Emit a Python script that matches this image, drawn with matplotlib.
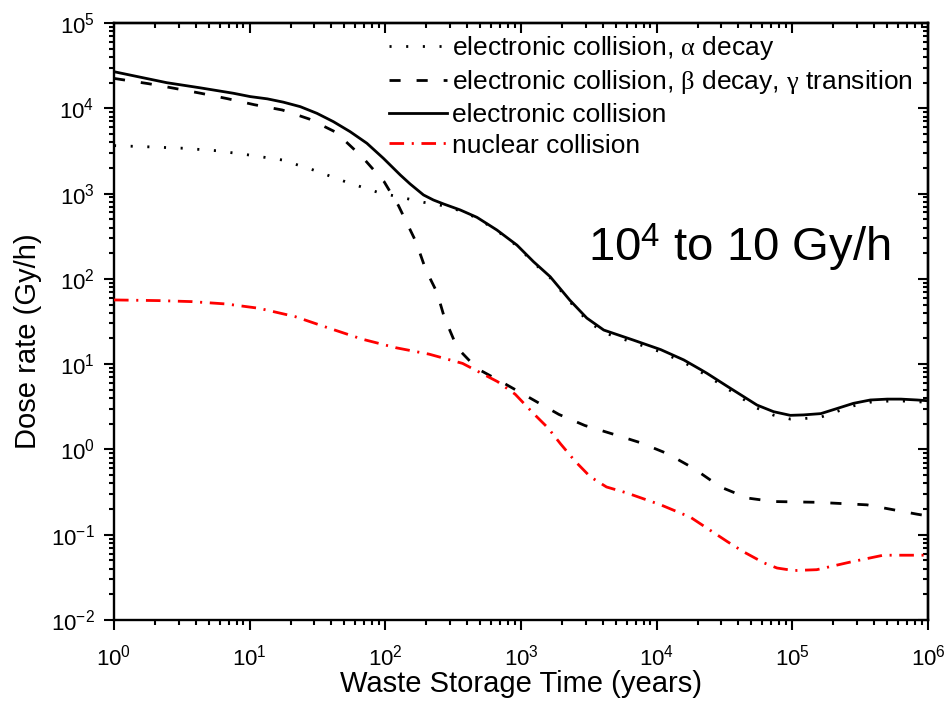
import numpy as np
import matplotlib
matplotlib.use("Agg")
import matplotlib.pyplot as plt
from matplotlib.ticker import LogLocator, NullFormatter

plt.rcParams["font.family"] = ["Liberation Sans", "DejaVu Sans"]
plt.rcParams["mathtext.fontset"] = "custom"
plt.rcParams["mathtext.rm"] = "Liberation Sans"
plt.rcParams["mathtext.it"] = "Liberation Serif"
plt.rcParams["mathtext.bf"] = "Liberation Sans:bold"
plt.rcParams["axes.unicode_minus"] = False
plt.rcParams["lines.scale_dashes"] = False

# Electronic collision, alpha decay
t_alpha = [1, 1.90, 3.24, 5.71, 9.79, 17.3, 29.5, 50.6, 88.9, 152, 191, 226, 269,
           356, 473, 664, 933, 1236, 1641, 2291, 3055, 4074, 6761, 10715, 15849,
           20893, 23442, 33113, 54954, 72778, 96605, 121060, 162181, 213796,
           281838, 375837, 501187, 630957, 831764, 1e6]
d_alpha = [3650, 3520, 3400, 3180, 2840, 2480, 1890, 1380, 1030, 857, 790, 760, 717,
           629, 518, 368, 244, 155, 103, 54.0, 32.8, 23.4, 17.9, 13.9, 10.5,
           8.18, 7.35, 5.17, 3.05, 2.52, 2.27, 2.30, 2.39, 2.79,
           3.24, 3.58, 3.68, 3.70, 3.63, 3.55]

# Electronic collision, beta decay and gamma transition
t_beta = [1, 1.79, 2.77, 4.36, 6.85, 10.8, 17.4, 27.4, 43.2, 67.8, 97.9, 125, 168,
          199, 240, 272, 339, 473, 741, 1175, 1905, 2951, 4786, 7586, 12023,
          18621, 29512, 46774, 72444, 151356, 354813, 831764, 1e6]
d_beta = [22400, 19450, 17180, 15000, 12970, 11020, 9550, 7500, 5240, 2670, 1380, 721, 273,
          127, 69.7, 35.5, 15.5, 8.91, 6.03, 3.98, 2.57, 1.91, 1.51, 1.20, 0.891,
          0.603, 0.363, 0.269, 0.245, 0.240, 0.224, 0.174, 0.166]

# Electronic collision, total
t_elec = [1, 2.45, 4.31, 7.59, 10.1, 13.5, 17.7, 23.6, 31.3, 41.4, 55.0, 73.1, 96.8, 129,
          152, 191, 226, 269, 356, 473, 664, 933, 1236, 1641, 2291, 3055, 4074,
          6761, 10715, 15849, 20893, 23442, 33113, 54954, 72778, 96605, 121060,
          162181, 213796, 281838, 375837, 501187, 630957, 831764, 1e6]
d_elec = [26850, 19950, 17380, 15000, 13710, 12900, 11800, 10450, 8730, 6970, 5320, 3890, 2590, 1650,
          1300, 964, 841, 755, 643, 527, 374, 249, 159, 106, 56.2, 34.7, 25.1,
          19.1, 14.8, 11.2, 8.71, 7.82, 5.50, 3.31, 2.77, 2.51, 2.54,
          2.63, 3.02, 3.47, 3.80, 3.89, 3.89, 3.80, 3.72]

# Nuclear collision
t_nuc = [1, 2.12, 3.74, 6.67, 11.7, 21.6, 38.5, 67.8, 119, 210, 371, 671, 906, 1230,
         1585, 1950, 2512, 3236, 4266, 6026, 10715, 17783, 33113, 43652, 61660,
         77090, 102329, 151356, 269153, 467735, 831764, 1e6]
d_nuc = [56.6, 55.6, 54.1, 50.8, 45.2, 36.1, 26.4, 19.6, 15.6, 13.1, 10.2, 6.24, 4.44, 2.66,
         1.78, 1.17, 0.724, 0.479, 0.363, 0.309, 0.224, 0.160, 0.0832, 0.0631, 0.0468,
         0.0407, 0.0380, 0.0389, 0.0479, 0.0575, 0.0575, 0.0575]

labels = [r"electronic collision, $\alpha$ decay",
          r"electronic collision, $\beta$ decay, $\gamma$ transition",
          "electronic collision",
          "nuclear collision"]

fig = plt.figure(figsize=(9.47, 7.17), dpi=100)
ax = fig.add_axes([114 / 947, 1 - 620 / 717, 814 / 947, 597 / 717])

ax.plot(t_alpha, d_alpha, color="black", lw=2.0, linestyle=(0, (1.5, 10.5)),
        dash_capstyle="butt", label=labels[0], zorder=2)
ax.plot(t_beta, d_beta, color="black", lw=2.0, linestyle=(0, (8, 11.5)),
        label=labels[1], zorder=3)
ax.plot(t_elec, d_elec, color="black", lw=2.0, linestyle="-",
        label=labels[2], zorder=4)
ax.plot(t_nuc, d_nuc, color="#ff0000", lw=2.0, linestyle=(0, (10.5, 5.5, 1.5, 5.5)),
        label=labels[3], zorder=3)

ax.set_xscale("log")
ax.set_yscale("log")
ax.set_xlim(1, 1e6)
ax.set_ylim(1e-2, 1e5)

for axis in (ax.xaxis, ax.yaxis):
    axis.set_major_locator(LogLocator(base=10, numticks=20))
    axis.set_minor_locator(LogLocator(base=10, subs=np.arange(2, 10), numticks=20))
    axis.set_minor_formatter(NullFormatter())

for s in ax.spines.values():
    s.set_linewidth(1.7)

ax.tick_params(which="both", bottom=True, left=True, top=False, right=False,
               direction="out", width=1.5, labelsize=16)
ax.tick_params(which="major", length=7.5)
ax.tick_params(which="minor", length=3.8)
ax.tick_params(axis="x", which="major", pad=10)
ax.tick_params(axis="y", which="major", pad=6.5)

# inward-pointing mirror ticks on the top and right edges
secx = ax.secondary_xaxis("top")
secx.set_xscale("log")
secx.xaxis.set_major_locator(LogLocator(base=10, numticks=20))
secx.xaxis.set_minor_locator(LogLocator(base=10, subs=np.arange(2, 10), numticks=20))
secx.xaxis.set_major_formatter(NullFormatter())
secx.xaxis.set_minor_formatter(NullFormatter())
secx.tick_params(which="both", direction="in", width=1.5, labeltop=False)
secx.tick_params(which="major", length=7.5)
secx.tick_params(which="minor", length=3.8)
secx.spines["top"].set_linewidth(1.7)

secy = ax.secondary_yaxis("right")
secy.set_yscale("log")
secy.yaxis.set_major_locator(LogLocator(base=10, numticks=20))
secy.yaxis.set_minor_locator(LogLocator(base=10, subs=np.arange(2, 10), numticks=20))
secy.yaxis.set_major_formatter(NullFormatter())
secy.yaxis.set_minor_formatter(NullFormatter())
secy.tick_params(which="both", direction="in", width=1.5, labelright=False)
secy.tick_params(which="major", length=7.5)
secy.tick_params(which="minor", length=3.8)
secy.spines["right"].set_linewidth(1.7)

ax.set_xlabel("Waste Storage Time (years)", fontsize=21)
ax.set_ylabel("Dose rate (Gy/h)", fontsize=21)
ax.xaxis.set_label_coords(0.5, -0.083)
ax.yaxis.set_label_coords(-0.088, 0.467)

ax.text(0.582, 0.600, r"10$^{\mathregular{4}}$ to 10 Gy/h", transform=ax.transAxes,
        fontsize=34, ha="left", va="baseline")

leg = ax.legend(loc="upper left", bbox_to_anchor=(0.3375, 0.982), frameon=False,
                fontsize=19, handlelength=2.2, handletextpad=0.2,
                labelspacing=0.25, borderpad=0, borderaxespad=0)

fig.savefig("out.png", dpi=100)
